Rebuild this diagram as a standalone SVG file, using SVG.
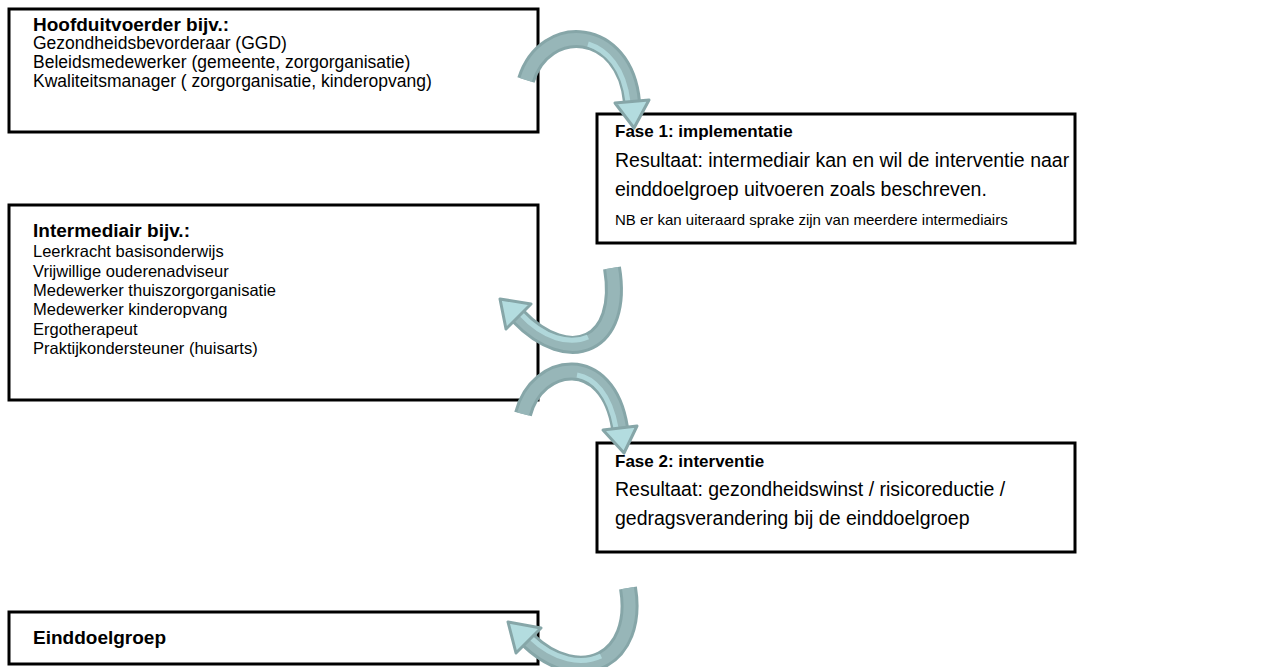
<svg xmlns="http://www.w3.org/2000/svg" width="1277" height="667" viewBox="0 0 1277 667">
<style>
.box{fill:#fff;stroke:#000;stroke-width:3}
.t{font-family:"Liberation Sans",Arial,sans-serif;fill:#000}
.tt{font-size:19px;font-weight:bold}
.bo{font-size:16.5px}
.b1{font-size:17.5px}
.ft{font-size:17px;font-weight:bold}
.rs{font-size:19.5px}
.nb{font-size:15px}
.ol{fill:none;stroke:#86a6a8;stroke-width:18;stroke-linecap:butt}
.bd{fill:none;stroke:#97b6b8;stroke-width:12;stroke-linecap:butt}
.lt{fill:none;stroke:#b0d7da;stroke-width:5;stroke-linecap:butt}
.hd{fill:#b3dcdf;stroke:#86a6a8;stroke-width:3;stroke-linejoin:round}
</style>
<rect width="1277" height="667" fill="#fff"/>
<g id="hoofduitvoerder">
<rect class="box" x="9" y="9" width="529" height="123"/>
<text class="t tt" x="33" y="31">Hoofduitvoerder bijv.:</text>
<text class="t b1" x="33" y="49">Gezondheidsbevorderaar (GGD)</text>
<text class="t b1" x="33" y="68">Beleidsmedewerker (gemeente, zorgorganisatie)</text>
<text class="t b1" x="33" y="87">Kwaliteitsmanager ( zorgorganisatie, kinderopvang)</text>
</g>
<g id="fase1">
<rect class="box" x="597" y="114" width="478" height="129"/>
<text class="t ft" x="615" y="137">Fase 1: implementatie</text>
<text class="t rs" x="615" y="167">Resultaat: intermediair kan en wil de interventie naar</text>
<text class="t rs" x="615" y="196">einddoelgroep uitvoeren zoals beschreven.</text>
<text class="t nb" x="615" y="225">NB er kan uiteraard sprake zijn van meerdere intermediairs</text>
</g>
<g id="intermediair">
<rect class="box" x="9" y="205" width="529" height="195"/>
<text class="t tt" x="33" y="237">Intermediair bijv.:</text>
<text class="t bo" x="33" y="257">Leerkracht basisonderwijs</text>
<text class="t bo" x="33" y="277">Vrijwillige ouderenadviseur</text>
<text class="t bo" x="33" y="296">Medewerker thuiszorgorganisatie</text>
<text class="t bo" x="33" y="315">Medewerker kinderopvang</text>
<text class="t bo" x="33" y="335">Ergotherapeut</text>
<text class="t bo" x="33" y="354">Praktijkondersteuner (huisarts)</text>
</g>
<g id="fase2">
<rect class="box" x="597" y="443" width="478" height="109"/>
<text class="t ft" x="615" y="467">Fase 2: interventie</text>
<text class="t rs" x="615" y="496">Resultaat: gezondheidswinst / risicoreductie /</text>
<text class="t rs" x="615" y="525">gedragsverandering bij de einddoelgroep</text>
</g>
<g id="einddoelgroep">
<rect class="box" x="9" y="612" width="529" height="52"/>
<text class="t tt" x="33" y="644">Einddoelgroep</text>
</g>
<g id="connectors">
<g id="arrow1">
<path class="ol" d="M526,80 C545,20 625,25 632,102"/>
<path class="bd" d="M526,80 C545,20 625,25 632,102"/>
<path class="lt" d="M588,44 C607,50 624,68 628,102"/>
<polygon class="hd" points="615,103 649,100 634,128"/>
</g>
<g id="arrow2">
<path class="ol" d="M612,268 C625,345 570,370 518,316"/>
<path class="bd" d="M612,268 C625,345 570,370 518,316"/>
<path class="lt" d="M588,337 C570,345 544,339 520,313"/>
<polygon class="hd" points="531,304 506,329 500,299"/>
</g>
<g id="arrow3">
<path class="ol" d="M523,414 C537,360 608,350 620,428"/>
<path class="bd" d="M523,414 C537,360 608,350 620,428"/>
<path class="lt" d="M577,375 C594,378 610,394 616,428"/>
<polygon class="hd" points="603,430 637,426 624,453"/>
</g>
<g id="arrow4">
<path class="ol" d="M628,588 C640,660 580,690 528,640"/>
<path class="bd" d="M628,588 C640,660 580,690 528,640"/>
<path class="lt" d="M601,656 C582,665 555,661 530,637"/>
<polygon class="hd" points="541,628 516,653 508,622"/>
</g>
</g>
</svg>
